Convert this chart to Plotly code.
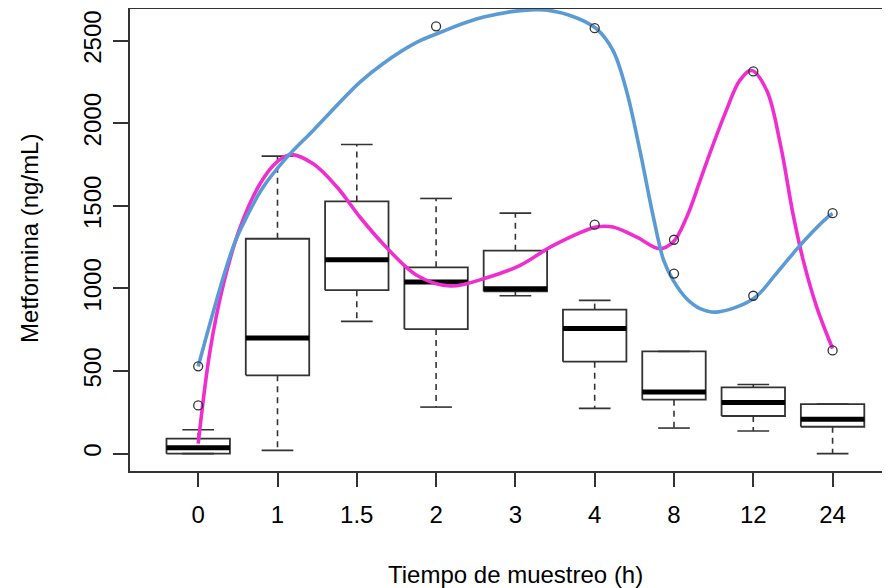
import plotly.graph_objects as go

# ---- data ----
categories = ["0", "1", "1.5", "2", "3", "4", "8", "12", "24"]
q1 = [0, 474, 990, 754, 982, 557, 327, 228, 163]
median = [36, 700, 1174, 1039, 999, 757, 373, 309, 209]
q3 = [91, 1301, 1527, 1128, 1229, 872, 619, 401, 300]
whisker_lo = [0, 20, 801, 282, 956, 274, 155, 137, 0]
whisker_hi = [145, 1801, 1872, 1545, 1456, 928, 619, 419, 300]

outlier_pos = [0, 0, 3, 5, 5, 6, 6, 7, 7, 8, 8]
outlier_val = [529, 292, 2587, 2576, 1386, 1295, 1090, 2314, 956, 1456, 625]

# smooth curves (x in category-index units)
blue_x = [0.00, 0.44, 0.61, 0.82, 1.12, 1.45, 2.04, 2.33, 2.76, 3.01, 3.60, 4.31,
          4.69, 5.02, 5.23, 5.40, 5.57, 5.74, 5.87, 5.99, 6.16, 6.33, 6.54, 7.00, 7.29,
          7.59, 7.95, 8.00]
blue_y = [528, 1251, 1432, 1614, 1795, 1957, 2249, 2361, 2491, 2542, 2643, 2688,
          2653, 2573, 2441, 2199, 1836, 1432, 1170, 1049, 938, 878, 857, 938, 1090,
          1261, 1436, 1453]

pink_x = [0.00, 0.15, 0.32, 0.53, 0.78, 0.99, 1.16, 1.45, 1.75, 2.04, 2.33, 2.76, 3.18,
          3.60, 4.06, 4.48, 5.02, 5.23, 5.53, 5.82, 5.99, 6.16, 6.33, 6.45, 6.66, 6.83,
          6.98, 7.17, 7.34, 7.50, 7.63, 7.80, 8.00]
pink_y = [61, 625, 1029, 1372, 1634, 1765, 1810, 1755, 1614, 1432, 1271, 1079, 1015,
          1059, 1140, 1261, 1372, 1372, 1311, 1241, 1281, 1432, 1654, 1815, 2078, 2260,
          2320, 2199, 1877, 1453, 1170, 887, 636]

y_ticks = [0, 500, 1000, 1500, 2000, 2500]

# ---- style ----
FONT = "Liberation Sans, Arial, sans-serif"
AX = "#333333"
BLUE = "#5b9bd5"
PINK = "#f02ecf"
HALF = 0.4     # half box width
STAPLE = 0.2   # half staple width

fig = go.Figure()

# whiskers (dashed)
wx, wy = [], []
for i in range(len(categories)):
    if whisker_hi[i] > q3[i]:
        wx += [i, i, None]; wy += [q3[i], whisker_hi[i], None]
    if whisker_lo[i] < q1[i]:
        wx += [i, i, None]; wy += [q1[i], whisker_lo[i], None]
fig.add_trace(go.Scatter(x=wx, y=wy, mode="lines", hoverinfo="skip",
                         line=dict(color=AX, width=1.6, dash="6px,5px"), showlegend=False))

# staples
sx, sy = [], []
for i in range(len(categories)):
    for v in (whisker_hi[i], whisker_lo[i]):
        sx += [i - STAPLE, i + STAPLE, None]; sy += [v, v, None]
fig.add_trace(go.Scatter(x=sx, y=sy, mode="lines", hoverinfo="skip",
                         line=dict(color=AX, width=1.6), showlegend=False))

# boxes
bx, by = [], []
for i in range(len(categories)):
    bx += [i - HALF, i + HALF, i + HALF, i - HALF, i - HALF, None]
    by += [q1[i], q1[i], q3[i], q3[i], q1[i], None]
fig.add_trace(go.Scatter(x=bx, y=by, mode="lines", hoverinfo="skip",
                         line=dict(color=AX, width=1.8), showlegend=False))

# medians
mx, my = [], []
for i in range(len(categories)):
    mx += [i - HALF, i + HALF, None]; my += [median[i], median[i], None]
fig.add_trace(go.Scatter(x=mx, y=my, mode="lines", hoverinfo="skip",
                         line=dict(color="#000000", width=5), showlegend=False))

# curves
fig.add_trace(go.Scatter(x=pink_x, y=pink_y, mode="lines", showlegend=False,
                         line=dict(color=PINK, width=3.6, shape="spline", smoothing=1.0)))
fig.add_trace(go.Scatter(x=blue_x, y=blue_y, mode="lines", showlegend=False,
                         line=dict(color=BLUE, width=3.6, shape="spline", smoothing=1.0)))

# outliers
fig.add_trace(go.Scatter(x=outlier_pos, y=outlier_val, mode="markers", showlegend=False,
                         marker=dict(symbol="circle-open", size=9, color=AX,
                                     line=dict(width=1.3, color=AX))))

# the page body adds an 8px offset, so the figure is 882x580
fig.update_layout(
    template="none",
    width=882, height=580,
    margin=dict(l=122, r=0, t=1, b=117, pad=0, autoexpand=False),
    paper_bgcolor="white", plot_bgcolor="white",
    font=dict(family=FONT, size=24, color="#000000"),
    showlegend=False,
    xaxis=dict(range=[-0.86, 8.724], tickmode="array", automargin=False,
               tickvals=list(range(len(categories))), ticktext=categories,
               showline=True, mirror=True, linecolor=AX, linewidth=1.5,
               ticks="outside", ticklen=14, tickwidth=1.5, tickcolor=AX,
               ticklabelstandoff=7,
               showgrid=False, zeroline=False, fixedrange=True),
    yaxis=dict(range=[-105, 2692], tickmode="array", tickvals=y_ticks, automargin=False,
               ticktext=[str(v) for v in y_ticks], tickangle=-90,
               showline=True, mirror=False, linecolor=AX, linewidth=1.5,
               ticks="outside", ticklen=15, tickwidth=1.5, tickcolor=AX,
               ticklabelstandoff=3,
               showgrid=False, zeroline=False, fixedrange=True),
    annotations=[
        dict(text="Tiempo de muestreo (h)", x=4, xref="x", y=0, yref="paper",
             yanchor="middle", xanchor="center", yshift=-103, showarrow=False,
             font=dict(family=FONT, size=24, color="#000000")),
        dict(text="Metformina (ng/mL)", x=0, xref="paper", y=1300, yref="y",
             xanchor="center", yanchor="middle", xshift=-100, textangle=-90,
             showarrow=False, font=dict(family=FONT, size=24, color="#000000")),
    ],
)

fig.write_html("out.html")
